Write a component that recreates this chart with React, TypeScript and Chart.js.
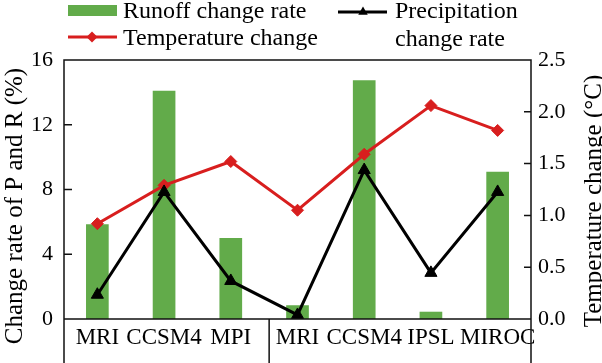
import React, { useEffect, useRef } from 'react';
import { Chart, registerables } from 'chart.js';

Chart.register(...registerables);

const categories = ['MRI', 'CCSM4', 'MPI', 'MRI', 'CCSM4', 'IPSL', 'MIROC'];
const runoffRate = [5.85, 14.1, 5.0, 0.85, 14.75, 0.45, 9.1];
const precipRate = [1.5, 7.85, 2.35, 0.25, 9.2, 2.85, 7.85];
const tempChange = [0.92, 1.29, 1.52, 1.05, 1.59, 2.06, 1.82];
const leftTicks = [0, 4, 8, 12, 16];
const rightTicks = [0, 0.5, 1.0, 1.5, 2.0, 2.5];

const GREEN = '#62ab4a';
const RED = '#d81e1e';
const BLACK = '#000000';
const FONT = '"Liberation Serif", "Times New Roman", serif';

function diamond(ctx: CanvasRenderingContext2D, x: number, y: number, r: number) {
  ctx.beginPath();
  ctx.moveTo(x, y - r);
  ctx.lineTo(x + r, y);
  ctx.lineTo(x, y + r);
  ctx.lineTo(x - r, y);
  ctx.closePath();
  ctx.fill();
}
function triangle(ctx: CanvasRenderingContext2D, x: number, y: number, r: number) {
  ctx.beginPath();
  ctx.moveTo(x, y - r);
  ctx.lineTo(x + r * 0.866, y + r * 0.5);
  ctx.lineTo(x - r * 0.866, y + r * 0.5);
  ctx.closePath();
  ctx.fill();
}

const decorPlugin = {
  id: 'decor',
  afterDraw(chart: any) {
    const { ctx, chartArea, scales } = chart;
    const { left, right, top, bottom } = chartArea;
    const H = chart.height;
    ctx.save();
    // frame
    ctx.strokeStyle = '#111';
    ctx.lineWidth = 1.5;
    ctx.beginPath();
    ctx.rect(left, top, right - left, bottom - top);
    ctx.moveTo(left, bottom);
    ctx.lineTo(left, H);
    ctx.moveTo(right, bottom);
    ctx.lineTo(right, H);
    const xd = (scales.x.getPixelForValue(2) + scales.x.getPixelForValue(3)) / 2 + 5;
    ctx.moveTo(xd, bottom);
    ctx.lineTo(xd, H);
    for (const v of leftTicks) {
      const y = scales.y.getPixelForValue(v);
      ctx.moveTo(left, y);
      ctx.lineTo(left + 8, y);
    }
    for (const v of rightTicks) {
      const y = scales.y1.getPixelForValue(v);
      ctx.moveTo(right, y);
      ctx.lineTo(right - 7, y);
    }
    ctx.stroke();

    // axis titles
    ctx.fillStyle = '#000';
    ctx.font = `25px ${FONT}`;
    ctx.textAlign = 'center';
    ctx.textBaseline = 'alphabetic';
    ctx.save();
    ctx.translate(22, 206);
    ctx.rotate(-Math.PI / 2);
    ctx.fillText('Change rate of P and R (%)', 0, 0);
    ctx.restore();
    ctx.save();
    ctx.translate(601, 201);
    ctx.rotate(-Math.PI / 2);
    ctx.fillText('Temperature change (°C)', 0, 0);
    ctx.restore();

    // legend
    ctx.textAlign = 'left';
    ctx.font = `24px ${FONT}`;
    ctx.fillStyle = GREEN;
    ctx.fillRect(68, 5, 49, 11);
    ctx.strokeStyle = RED;
    ctx.lineWidth = 3;
    ctx.beginPath();
    ctx.moveTo(68, 37);
    ctx.lineTo(117, 37);
    ctx.stroke();
    ctx.fillStyle = RED;
    diamond(ctx, 92, 37, 5.5);
    ctx.strokeStyle = BLACK;
    ctx.beginPath();
    ctx.moveTo(338, 12);
    ctx.lineTo(387, 12);
    ctx.stroke();
    ctx.fillStyle = BLACK;
    triangle(ctx, 363, 12, 5.5);
    ctx.fillStyle = '#000';
    ctx.fillText(chart.data.datasets[0].label, 123, 18);
    ctx.fillText(chart.data.datasets[1].label, 123, 45);
    ctx.fillText('Precipitation', 395, 18);
    ctx.fillText('change rate', 395, 46);
    ctx.restore();
  },
};

export default function App() {
  const ref = useRef<HTMLCanvasElement>(null);
  useEffect(() => {
    document.body.style.margin = '0';
    const tickFont = { family: FONT, size: 22 };
    const catFont = { family: FONT, size: 23 };
    const chart = new Chart(ref.current!, {
      type: 'bar',
      data: {
        labels: categories,
        datasets: [
          {
            type: 'bar',
            label: 'Runoff change rate',
            data: runoffRate,
            backgroundColor: GREEN,
            borderWidth: 0,
            barPercentage: 0.34,
            categoryPercentage: 1.0,
            yAxisID: 'y',
            order: 3,
          } as any,
          {
            type: 'line',
            label: 'Temperature change',
            data: tempChange,
            borderColor: RED,
            backgroundColor: RED,
            borderWidth: 3,
            pointStyle: 'rectRot',
            pointRadius: 6,
            pointBorderWidth: 1,
            pointBackgroundColor: RED,
            pointBorderColor: RED,
            tension: 0,
            yAxisID: 'y1',
            order: 2,
          },
          {
            type: 'line',
            label: 'Precipitation change rate',
            data: precipRate,
            borderColor: BLACK,
            backgroundColor: BLACK,
            borderWidth: 3,
            pointStyle: 'triangle',
            pointRadius: 7,
            pointBorderWidth: 1,
            pointBackgroundColor: BLACK,
            pointBorderColor: BLACK,
            tension: 0,
            yAxisID: 'y',
            order: 1,
          },
        ],
      },
      options: {
        animation: false,
        responsive: false,
        maintainAspectRatio: false,
        layout: { padding: { top: 60, left: 0, right: 0, bottom: 0 } },
        plugins: { legend: { display: false }, tooltip: { enabled: false } },
        scales: {
          x: {
            offset: true,
            grid: { display: false, drawTicks: false },
            border: { display: false },
            ticks: { font: catFont, color: '#000', padding: 5, autoSkip: false, maxRotation: 0, minRotation: 0 },
            afterFit(s: any) {
              s.height = 44;
            },
          },
          y: {
            position: 'left',
            min: 0,
            max: 16,
            afterBuildTicks(s: any) {
              s.ticks = leftTicks.map((v) => ({ value: v }));
            },
            grid: { display: false, drawTicks: false },
            border: { display: false },
            ticks: { font: tickFont, color: '#000', padding: 11 },
            afterFit(s: any) {
              s.width = 64;
            },
          },
          y1: {
            position: 'right',
            min: 0,
            max: 2.5,
            afterBuildTicks(s: any) {
              s.ticks = rightTicks.map((v) => ({ value: v }));
            },
            grid: { display: false, drawTicks: false },
            border: { display: false },
            ticks: { font: tickFont, color: '#000', padding: 7, callback: (v: any) => Number(v).toFixed(1) },
            afterFit(s: any) {
              s.width = 71;
            },
          },
        },
      },
      plugins: [decorPlugin],
    });
    return () => chart.destroy();
  }, []);
  return <canvas ref={ref} width={602} height={363} style={{ display: 'block' }} />;
}
